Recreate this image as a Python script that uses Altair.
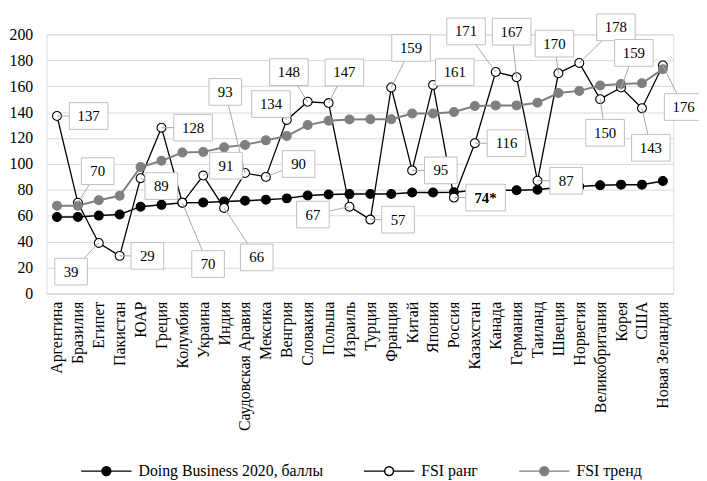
import json
import altair as alt
import pandas as pd

countries = ["Аргентина", "Бразилия", "Египет", "Пакистан", "ЮАР", "Греция", "Колумбия",
             "Украина", "Индия", "Саудовская Аравия", "Мексика", "Венгрия", "Словакия",
             "Польша", "Израиль", "Турция", "Франция", "Китай", "Япония", "Россия",
             "Казахстан", "Канада", "Германия", "Таиланд", "Швеция", "Норвегия",
             "Великобритания", "Корея", "США", "Новая Зеландия"]
db_score = [59.0, 59.1, 60.1, 61.0, 67.0, 68.4, 70.1, 70.2, 71.0, 71.6, 72.4, 73.4, 75.6,
            76.4, 76.7, 76.8, 76.8, 77.9, 78.0, 78.2, 79.6, 79.6, 79.7, 80.1, 82.0, 82.6,
            83.5, 84.0, 84.0, 86.8]
fsi_rank = [137, 70, 39, 29, 89, 128, 70, 91, 66, 93, 90, 134, 148, 147, 67, 57, 159, 95,
            161, 74, 116, 171, 167, 87, 170, 178, 150, 159, 143, 176]
fsi_trend = [67.7, 67.7, 71.9, 75.4, 97.6, 102.4, 108.8, 109.3, 112.8, 114.7, 118.2, 121.6,
             130.0, 133.3, 134.3, 134.5, 134.5, 138.9, 138.9, 140.1, 144.7, 145.2, 145.2,
             147.3, 154.7, 156.4, 160.5, 161.7, 162.3, 173.2]
rank_text = ["137", "70", "39", "29", "89", "128", "70", "91", "66", "93", "90", "134", "148",
             "147", "67", "57", "159", "95", "161", "74*", "116", "171", "167", "87", "170",
             "178", "150", "159", "143", "176"]
series_names = ["Doing Business 2020, баллы", "FSI ранг", "FSI тренд"]

# label placement (pixel offsets of callout boxes from their points)
label_dx = [32, 20, -28, 28, 21, 32, 26, 23, 33, -20, 33, -16, -19, 16, -37, 28, 20, 29, 22,
            32, 32, -30, -5, 29, -4, 37, 5, 13, 9, 21]
label_dy = [0, -32, 29, 0, 8, 0, 62, -10, 50, -82, -13, -16, -30, -31, 8, 0, -40, 0, -13, 0,
            0, -41, -46, 0, -30, -36, 34, -35, 40, 42]

W, H = 634, 262
step = W / 30.0
ppu = H / 200.0
FONT = "Times New Roman, Liberation Serif, serif"

rows = []
for s, vals in zip(series_names, [db_score, fsi_rank, fsi_trend]):
    for i, v in enumerate(vals):
        rows.append({"i": i, "v": v, "series": s})
df = pd.DataFrame(rows)

lab = []
for i, (v, t, dx, dy) in enumerate(zip(fsi_rank, rank_text, label_dx, label_dy)):
    wpx = 40 if "*" in t else (39 if len(t) == 3 else 33)
    lx = i + dx / step
    ly = v - dy / ppu
    lab.append({"i": i, "v": v, "lx": lx, "ly": ly,
                "bx1": lx - wpx / 2 / step, "bx2": lx + wpx / 2 / step,
                "by1": ly - 13.5 / ppu, "by2": ly + 13.5 / ppu,
                "text": t, "bold": "*" in t})
ldf = pd.DataFrame(lab)

names_js = json.dumps(countries, ensure_ascii=False)
xscale = alt.Scale(domain=[-0.5, 29.5], nice=False, zero=False)
xaxis = alt.Axis(values=list(range(30)), labelExpr=f"{names_js}[datum.value]", labelAngle=270,
                 ticks=False, grid=False, title=None, labelFont=FONT, labelFontSize=16,
                 labelColor="black", labelPadding=8, domainColor="#d9d9d9", domainWidth=1.5,
                 labelOverlap=False, labelLimit=0)
yscale = alt.Scale(domain=[0, 200], nice=False)
yaxis = alt.Axis(values=list(range(0, 201, 20)), grid=True, gridColor="#d9d9d9", domain=False,
                 ticks=False, title=None, labelFont=FONT, labelFontSize=16, labelColor="black",
                 labelPadding=14)


def X(f):
    return alt.X(f, type="quantitative", scale=xscale, axis=xaxis)


def Y(f):
    return alt.Y(f, type="quantitative", scale=yscale, axis=yaxis)


stroke_scale = alt.Scale(domain=series_names, range=["#000000", "#000000", "#7f7f7f"])
fill_scale = alt.Scale(domain=series_names, range=["#000000", "#ffffff", "#7f7f7f"])

r = 0.176
sym = (f"M-1,0H{-r}M{r},0H1M{-r},0A{r},{r},0,1,1,{r},0A{r},{r},0,1,1,{-r},0Z")
legend = alt.Legend(orient="none", legendX=34, legendY=415, direction="horizontal", title=None,
                    symbolType=sym, symbolSize=2601, symbolStrokeWidth=1.5,
                    labelFont=FONT, labelFontSize=16, labelColor="black", columnPadding=38,
                    labelOffset=6, padding=0, labelLimit=0)

base = alt.Chart(df)
lines = []
for s, wdt in zip(series_names, [1.5, 1.3, 2.0]):
    lines.append(base.transform_filter(alt.datum.series == s).mark_line(strokeWidth=wdt).encode(
        x=X("i"), y=Y("v"),
        stroke=alt.Stroke("series:N", scale=stroke_scale, legend=legend)))

points = base.mark_point(filled=True, size=81, opacity=1, strokeWidth=1.1, shape="circle").encode(
    x=X("i"), y=Y("v"),
    stroke=alt.Stroke("series:N", scale=stroke_scale, legend=legend),
    fill=alt.Fill("series:N", scale=fill_scale, legend=legend),
)

lb = alt.Chart(ldf)
leaders = lb.mark_rule(color="#a6a6a6", strokeWidth=1).encode(
    x=X("i"), y=Y("v"), x2="lx:Q", y2="ly:Q")
boxes = lb.mark_rect(fill="white", stroke="#bfbfbf", strokeWidth=1).encode(
    x=X("bx1"), x2="bx2:Q", y=Y("by1"), y2="by2:Q")
texts = lb.transform_filter("!datum.bold").mark_text(
    font=FONT, fontSize=15, color="black", baseline="middle", align="center").encode(
    x=X("lx"), y=Y("ly"), text="text:N")
texts_b = lb.transform_filter("datum.bold").mark_text(
    font=FONT, fontSize=15, fontWeight="bold", color="black", baseline="middle",
    align="center").encode(x=X("lx"), y=Y("ly"), text="text:N")

chart = alt.layer(*lines, points, leaders, boxes, texts, texts_b).properties(
    width=W, height=H,
    autosize=alt.AutoSizeParams(type="none"),
    padding={"left": 39, "top": 24, "right": 26, "bottom": 186},
).configure_view(stroke=None).configure(font=FONT)

chart.save("out.html", embed_options={"renderer": "svg", "actions": False})
